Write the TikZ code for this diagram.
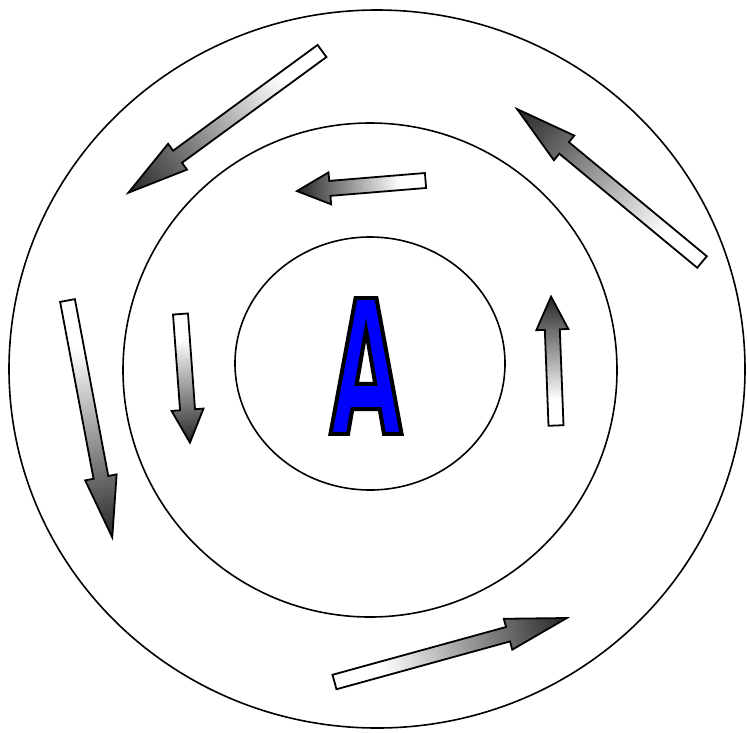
\documentclass[tikz,border=0pt]{standalone}
\usepackage{fontspec}
\newfontfamily\afont[FakeStretch=0.5]{DejaVu Sans}
\newcommand\outlinedtext[1]{\special{pdf:literal direct 2 Tr 0 0 0 RG 4 w 0 j}#1\special{pdf:literal direct 0 Tr}}
\pgfdeclarehorizontalshading{arrowshade}{100bp}{color(0bp)=(white); color(25bp)=(white); color(35bp)=(white); color(75bp)=(black!85); color(100bp)=(black!85)}
\tikzset{
  ring/.style={draw=black, line width=1.6pt},
  flowbody/.style={draw=black, line width=1.8pt, line join=miter, shading=arrowshade},
}
% #1 tail point, #2 direction angle, #3 length, #4 head length
\newcommand\flowarrow[4]{%
  \begin{scope}[transform canvas={shift={(#1)},rotate=#2}]
    \draw[flowbody] (0,-7.5) -- ({#3-#4},-7.5) -- ({#3-#4},-16) -- (#3,0)
      -- ({#3-#4},16) -- ({#3-#4},7.5) -- (0,7.5) -- cycle;
  \end{scope}}
\begin{document}
\begin{tikzpicture}[x=1pt,y=-1pt]
\useasboundingbox[fill=white] (0,0) rectangle (747,732);
\draw[ring] (377,369) ellipse [x radius=368, y radius=359];
\draw[ring] (370,370) ellipse [x radius=247, y radius=247];
\draw[ring] (370,363.5) ellipse [x radius=135, y radius=126.5];
\coordinate (t1) at (322,51);
\coordinate (t2) at (702,262);
\coordinate (t3) at (334.5,682);
\coordinate (t4) at (67.5,300.5);
\coordinate (t5) at (425.5,180.5);
\coordinate (t6) at (180.5,314);
\coordinate (t7) at (556,425.5);
\flowarrow{t1}{216.2}{240}{61}
\flowarrow{t2}{140.4}{240}{61}
\flowarrow{t3}{15.4}{241}{61}
\flowarrow{t4}{-79.3}{241}{61}
\flowarrow{t5}{184.7}{129}{33}
\flowarrow{t6}{-85.8}{129}{33}
\flowarrow{t7}{92.2}{129}{33}
\node[inner sep=0pt, text=blue, font=\afont\bfseries\fontsize{186}{186}\selectfont] (A) at (366,366) {\outlinedtext{A}};
\end{tikzpicture}
\end{document}
